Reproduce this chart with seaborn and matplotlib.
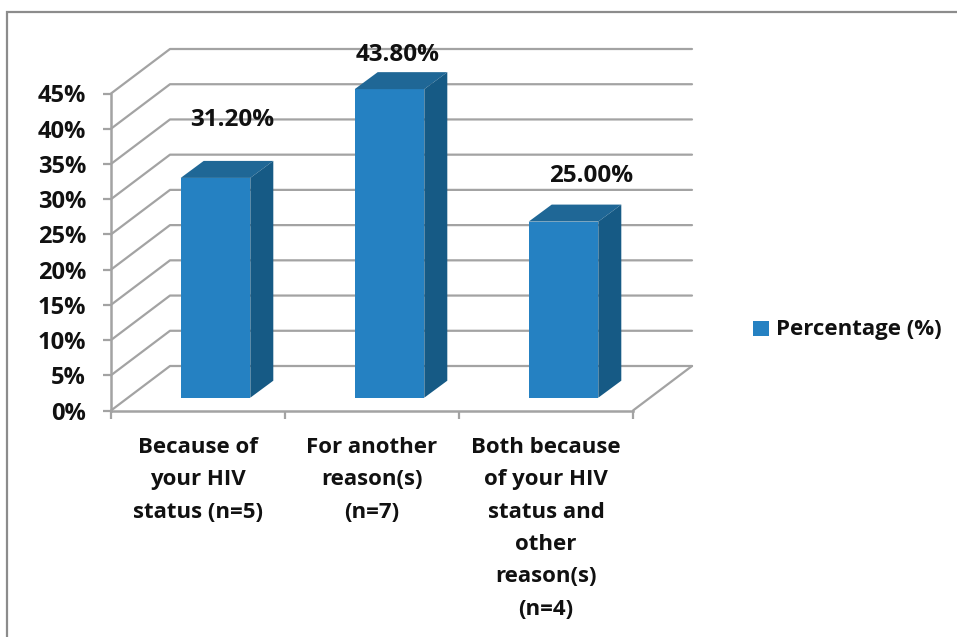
import matplotlib
matplotlib.use("Agg")
import matplotlib.pyplot as plt
from matplotlib.patches import Polygon, Rectangle
from matplotlib.transforms import Affine2D
import pandas as pd
import seaborn as sns

categories = ["Because of\nyour HIV\nstatus (n=5)",
              "For another\nreason(s)\n(n=7)",
              "Both because\nof your HIV\nstatus and\nother\nreason(s)\n(n=4)"]
values = [31.2, 43.8, 25.0]
value_labels = ["31.20%", "43.80%", "25.00%"]
y_ticks = [0, 5, 10, 15, 20, 25, 30, 35, 40, 45]
series_name = "Percentage (%)"

W, H = 957, 637
FRONT = "#2581c2"
TOP = "#1f6796"
SIDE = "#165a85"
GRID = "#a3a3a3"
INK = "#111111"
FS = 16

sns.set_theme(style="white")
plt.rcParams["font.family"] = ["Open Sans", "DejaVu Sans"]
plt.rcParams["font.weight"] = "bold"

fig = plt.figure(figsize=(W / 100, H / 100), dpi=100)
# front floor edge runs 111..633 px, 0% at y=410.5 and 45% at y=93.5
ax = fig.add_axes([111 / W, 1 - 410.5 / H, 522 / W, 317 / H])

df = pd.DataFrame({"category": categories, "value": values})
sns.barplot(data=df, x="category", y="value", color=FRONT, saturation=1,
            width=0.4, ax=ax, zorder=3)
ax.set_xlim(-0.5, 2.5)
ax.set_ylim(0, 45)

# pixels to data units
px_x = 3 / 522
px_y = 45 / 317

# walls and floor
wall_x = 59 * px_x
wall_y = 44.5 * px_y
for t in y_ticks:
    ax.plot([-0.5, -0.5 + wall_x, 2.5 + wall_x], [t, t + wall_y, t + wall_y],
            color=GRID, lw=1.6, clip_on=False, zorder=1)
ax.plot([2.5, 2.5 + wall_x], [0, wall_y], color=GRID, lw=1.6, clip_on=False, zorder=1)

# 3d bars, moved off the front plane with their top and side faces
shift_x = 17.5 * px_x
shift_y = 12.8 * px_y
depth_x = 23 * px_x
depth_y = 17 * px_y
for bar in ax.patches[:len(values)]:
    bar.set_transform(Affine2D().translate(shift_x, shift_y) + ax.transData)
    bar.set_clip_on(False)
    bar.set_linewidth(0)
    x0 = bar.get_x() + shift_x
    x1 = x0 + bar.get_width()
    y0 = shift_y
    y1 = bar.get_height() + shift_y
    ax.add_patch(Polygon([(x0, y1), (x1, y1), (x1 + depth_x, y1 + depth_y), (x0 + depth_x, y1 + depth_y)],
                         color=TOP, lw=0, clip_on=False, zorder=3))
    ax.add_patch(Polygon([(x1, y0), (x1 + depth_x, y0 + depth_y), (x1 + depth_x, y1 + depth_y), (x1, y1)],
                         color=SIDE, lw=0, clip_on=False, zorder=3))

# value labels sit at hand placed spots, as in the original chart
label_dx = [16.5, 8, 27.5]
label_dy = [58, 34, 46]
for i, v in enumerate(values):
    ax.text(i + shift_x + label_dx[i] * px_x, v + shift_y + label_dy[i] * px_y, value_labels[i],
            ha="center", va="center", fontsize=17.5, fontweight="bold", color=INK, zorder=5)

# axes
sns.despine(ax=ax, top=True, right=True)
for side in ["left", "bottom"]:
    ax.spines[side].set_color(GRID)
    ax.spines[side].set_linewidth(1.8)
ax.set_xlabel("")
ax.set_ylabel("")
ax.set_yticks(y_ticks)
ax.set_yticklabels([f"{t}%" for t in y_ticks])
ax.tick_params(axis="y", length=6, width=1.6, color=GRID, left=True, pad=12,
               labelsize=17, labelcolor=INK)
ax.set_xticks([-0.5, 0.5, 1.5, 2.5])
ax.set_xticklabels([])
ax.tick_params(axis="x", which="major", length=6, width=1.6, color=GRID, bottom=True)
ax.set_xticks([0, 1, 2], minor=True)
ax.set_xticklabels(categories, minor=True, fontsize=FS, color=INK, linespacing=1.71, va="top")
ax.tick_params(axis="x", which="minor", length=0, pad=19)

# legend
fig.patches.append(Rectangle((753 / W, 1 - 336 / H), 16 / W, 15 / H, transform=fig.transFigure,
                             facecolor=FRONT, lw=0))
fig.text(776 / W, 1 - 330 / H, series_name, fontsize=FS, fontweight="bold", color=INK,
         ha="left", va="center")

# outer frame
fig.patches.append(Rectangle((7 / W, -0.02), 1.1, 1.02 - 11.5 / H, transform=fig.transFigure,
                             fill=False, edgecolor="#8c8c8c", lw=1.6))

fig.savefig("out.png", dpi=100)
